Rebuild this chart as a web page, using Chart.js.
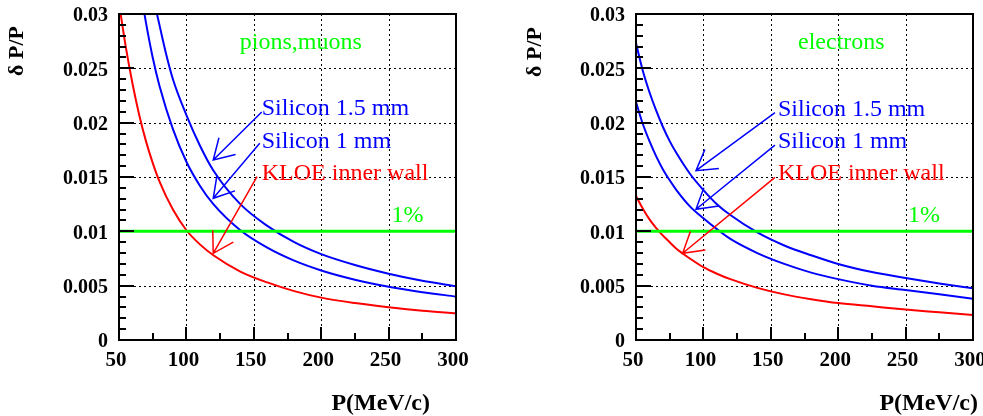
<!DOCTYPE html>
<html>
<head>
<meta charset="utf-8">
<script src="https://cdn.jsdelivr.net/npm/chart.js@4"></script>
<style>
    html, body { margin: 0; padding: 0; background: #fff; overflow: hidden; }
    #wrap { position: relative; width: 983px; height: 416px; overflow: hidden; }
    canvas { position: absolute; top: 0; }
</style>
</head>
<body>
<div id="wrap">
    <canvas id="panelMu" width="491" height="416" style="left:0px"></canvas>
    <canvas id="panelE" width="520" height="416" style="left:491px"></canvas>
</div>
<script>
'use strict';

// momentum grid, MeV/c
var momentum = [50, 55, 60, 65, 70, 75, 80, 90, 100, 110, 120, 140, 160, 180, 200, 225, 250, 275, 300];
var momentumSi15Mu = [78, 80, 85, 90, 100, 110, 120, 140, 160, 180, 200, 225, 250, 275, 300];
var momentumSi10Mu = [68, 70, 75, 80, 90, 100, 110, 120, 140, 160, 180, 200, 225, 250, 275, 300];

// pions, muons : dP/P
var kloeMu = [0.0310, 0.0270, 0.0236, 0.0207, 0.0183, 0.0163, 0.0146, 0.0120, 0.0101, 0.0088, 0.0078, 0.0063, 0.0053, 0.0045, 0.0039, 0.0034, 0.00302, 0.0027, 0.00246];
var si15Mu = [0.0301, 0.0290, 0.0263, 0.0240, 0.0207, 0.0179, 0.0156, 0.0125, 0.0105, 0.0090, 0.0079, 0.0069, 0.0061, 0.00545, 0.00495];
var si10Mu = [0.0307, 0.0292, 0.0260, 0.0234, 0.0194, 0.0164, 0.0142, 0.0125, 0.0101, 0.0085, 0.0073, 0.0064, 0.00555, 0.0049, 0.0044, 0.0040];

// electrons : dP/P
var kloeE = [0.01325, 0.0121, 0.0111, 0.0103, 0.0096, 0.0090, 0.0084, 0.0075, 0.0067, 0.0061, 0.0056, 0.0048, 0.0042, 0.00376, 0.0034, 0.0031, 0.0028, 0.00255, 0.0023];
var si15E = [0.0273, 0.0248, 0.0228, 0.0211, 0.0196, 0.0183, 0.0172, 0.0153, 0.0138, 0.0125, 0.0115, 0.0099, 0.0087, 0.0078, 0.0070, 0.00625, 0.0057, 0.0052, 0.00475];
var si10E = [0.0219, 0.0199, 0.0183, 0.0169, 0.0157, 0.0147, 0.0138, 0.0123, 0.0112, 0.0102, 0.0093, 0.0080, 0.0070, 0.0062, 0.0056, 0.0050, 0.0046, 0.0042, 0.0038];

// 1% reference level
var onePercent = 0.01;

var xTickLabels = [50, 100, 150, 200, 250, 300];
var yTickLabels = [0, 0.005, 0.01, 0.015, 0.02, 0.025, 0.03];

var SERIF = '"Liberation Serif", "Times New Roman", serif';
var BLUE = '#0000ff', RED = '#ff0000', GREEN = '#00ff00';

function pairs(xs, ys) {
    return xs.map(function (x, i) { return {x: x, y: ys[i]}; });
}

function curve(xs, ys, color) {
    return {
        data: pairs(xs, ys),
        borderColor: color,
        borderWidth: 2,
        pointRadius: 0,
        fill: false,
        cubicInterpolationMode: 'monotone'
    };
}

function drawArrow(ctx, x0, y0, x1, y1) {
    var ang = Math.atan2(y0 - y1, x0 - x1), len = 23, spread = 0.54;
    ctx.beginPath();
    ctx.moveTo(x0, y0);
    ctx.lineTo(x1, y1);
    ctx.moveTo(x1 + len * Math.cos(ang - spread), y1 + len * Math.sin(ang - spread));
    ctx.lineTo(x1, y1);
    ctx.lineTo(x1 + len * Math.cos(ang + spread), y1 + len * Math.sin(ang + spread));
    ctx.stroke();
}

// frame, dotted grid, inner ticks, labels and arrows (ROOT style)
function makeDecor(panel) {
    return {
        id: 'decor',
        beforeDatasetsDraw: function (chart) {
            var ctx = chart.ctx, a = chart.chartArea, xs = chart.scales.x, ys = chart.scales.y;
            ctx.save();
            ctx.strokeStyle = '#000';
            ctx.lineWidth = 1;
            ctx.setLineDash([2, 3]);
            ctx.beginPath();
            xTickLabels.forEach(function (v) {
                if (v <= xs.min || v >= xs.max) return;
                var px = Math.round(xs.getPixelForValue(v)) + 0.5;
                ctx.moveTo(px, a.top);
                ctx.lineTo(px, a.bottom);
            });
            yTickLabels.forEach(function (v) {
                if (v <= ys.min || v >= ys.max) return;
                var py = Math.round(ys.getPixelForValue(v)) + 0.5;
                ctx.moveTo(a.left, py);
                ctx.lineTo(a.right, py);
            });
            ctx.stroke();
            ctx.restore();
        },
        afterDatasetsDraw: function (chart) {
            var ctx = chart.ctx, a = chart.chartArea, xs = chart.scales.x, ys = chart.scales.y;
            var i, px, py;
            ctx.save();
            ctx.strokeStyle = '#000';
            ctx.lineWidth = 2;
            ctx.beginPath();
            for (i = 0; i <= 30; i++) {
                py = Math.round(ys.getPixelForValue(i / 1000));
                ctx.moveTo(a.left, py);
                ctx.lineTo(a.left + (i % 5 === 0 ? 15 : 7), py);
            }
            for (i = 0; i <= 10; i++) {
                px = Math.round(xs.getPixelForValue(50 + i * 25));
                ctx.moveTo(px, a.bottom);
                ctx.lineTo(px, a.bottom - (i % 2 === 0 ? 13 : 7));
            }
            ctx.stroke();
            ctx.strokeRect(Math.round(a.left), Math.round(a.top), Math.round(a.width), Math.round(a.height));

            // arrows
            ctx.lineWidth = 1.5;
            panel.arrows.forEach(function (ar) {
                ctx.strokeStyle = ar.color;
                drawArrow(ctx, xs.getPixelForValue(ar.from[0]), ys.getPixelForValue(ar.from[1]),
                        xs.getPixelForValue(ar.to[0]), ys.getPixelForValue(ar.to[1]));
            });

            // notes
            ctx.font = '24px ' + SERIF;
            ctx.textAlign = 'left';
            ctx.textBaseline = 'alphabetic';
            panel.notes.forEach(function (n) {
                ctx.fillStyle = n.color;
                ctx.fillText(n.text, xs.getPixelForValue(n.at[0]), ys.getPixelForValue(n.at[1]));
            });

            // axis titles
            ctx.fillStyle = '#000';
            ctx.font = 'bold 24px ' + SERIF;
            ctx.textAlign = 'right';
            ctx.textBaseline = 'middle';
            ctx.fillText('P(MeV/c)', panel.xTitle[0], panel.xTitle[1]);
            ctx.translate(panel.yTitle[0], panel.yTitle[1]);
            ctx.rotate(-Math.PI / 2);
            ctx.font = 'bold 22px ' + SERIF;
            ctx.textAlign = 'center';
            ctx.fillText('\u03b4 P/P', 0, 0);
            ctx.restore();
        }
    };
}

function makePanel(id, sets, yAxisWidth, panel) {
    return new Chart(document.getElementById(id), {
        type: 'line',
        data: {
            datasets: [{
                data: [{x: 50, y: onePercent}, {x: 300, y: onePercent}],
                borderColor: GREEN,
                borderWidth: 3,
                pointRadius: 0,
                fill: false
            }].concat(sets)
        },
        options: {
            responsive: false,
            animation: false,
            devicePixelRatio: 1,
            layout: {padding: {left: 0, top: 14, right: panel.rightPad, bottom: 0}},
            plugins: {legend: {display: false}, tooltip: {enabled: false}},
            scales: {
                x: {
                    type: 'linear', min: 50, max: 300,
                    afterFit: function (s) { s.height = 76; s.paddingLeft = 0; s.paddingRight = 0; },
                    afterBuildTicks: function (s) { s.ticks = xTickLabels.map(function (v) { return {value: v}; }); },
                    grid: {display: false, drawTicks: false},
                    border: {display: false},
                    ticks: {padding: 8, labelOffset: -3, color: '#000', font: {family: SERIF, size: 21, weight: 'bold'},
                        maxRotation: 0, autoSkip: false}
                },
                y: {
                    type: 'linear', min: 0, max: 0.03,
                    afterFit: function (s) { s.width = yAxisWidth; s.paddingTop = 0; s.paddingBottom = 0; },
                    afterBuildTicks: function (s) { s.ticks = yTickLabels.map(function (v) { return {value: v}; }); },
                    grid: {display: false, drawTicks: false},
                    border: {display: false},
                    ticks: {padding: 11, labelOffset: 2, color: '#000', font: {family: SERIF, size: 20, weight: 'bold'},
                        autoSkip: false, callback: function (v) { return String(+v.toFixed(4)); }}
                }
            }
        },
        plugins: [makeDecor(panel)]
    });
}

makePanel('panelMu', [
    curve(momentum, kloeMu, RED),
    curve(momentumSi15Mu, si15Mu, BLUE),
    curve(momentumSi10Mu, si10Mu, BLUE)
], 119, {
    rightPad: 35,
    notes: [
        {text: 'pions,muons', at: [139.6, 0.0268], color: GREEN},
        {text: 'Silicon 1.5 mm', at: [155.9, 0.0207], color: BLUE},
        {text: 'Silicon 1 mm', at: [155.9, 0.01764], color: BLUE},
        {text: 'KLOE inner wall', at: [155.9, 0.01472], color: RED},
        {text: '1%', at: [252.2, 0.01089], color: GREEN}
    ],
    arrows: [
        {from: [155.9, 0.02098], to: [119.9, 0.01656], color: BLUE},
        {from: [154.4, 0.0181], to: [119.9, 0.01304], color: BLUE},
        {from: [152.4, 0.01503], to: [119.9, 0.00798], color: RED}
    ],
    xTitle: [430, 404],
    yTitle: [17, 51]
});

makePanel('panelE', [
    curve(momentum, kloeE, RED),
    curve(momentum, si15E, BLUE),
    curve(momentum, si10E, BLUE)
], 145, {
    rightPad: 38,
    notes: [
        {text: 'electrons', at: [170.2, 0.0268], color: GREEN},
        {text: 'Silicon 1.5 mm', at: [155.3, 0.0206], color: BLUE},
        {text: 'Silicon 1 mm', at: [155.3, 0.01764], color: BLUE},
        {text: 'KLOE inner wall', at: [155.3, 0.01472], color: RED},
        {text: '1%', at: [251.8, 0.01089], color: GREEN}
    ],
    arrows: [
        {from: [153.1, 0.02092], to: [94.5, 0.01558], color: BLUE},
        {from: [153.1, 0.01794], to: [94.5, 0.01203], color: BLUE},
        {from: [153.1, 0.01497], to: [84.6, 0.00798], color: RED}
    ],
    xTitle: [487, 404],
    yTitle: [44, 52]
});
</script>
</body>
</html>
